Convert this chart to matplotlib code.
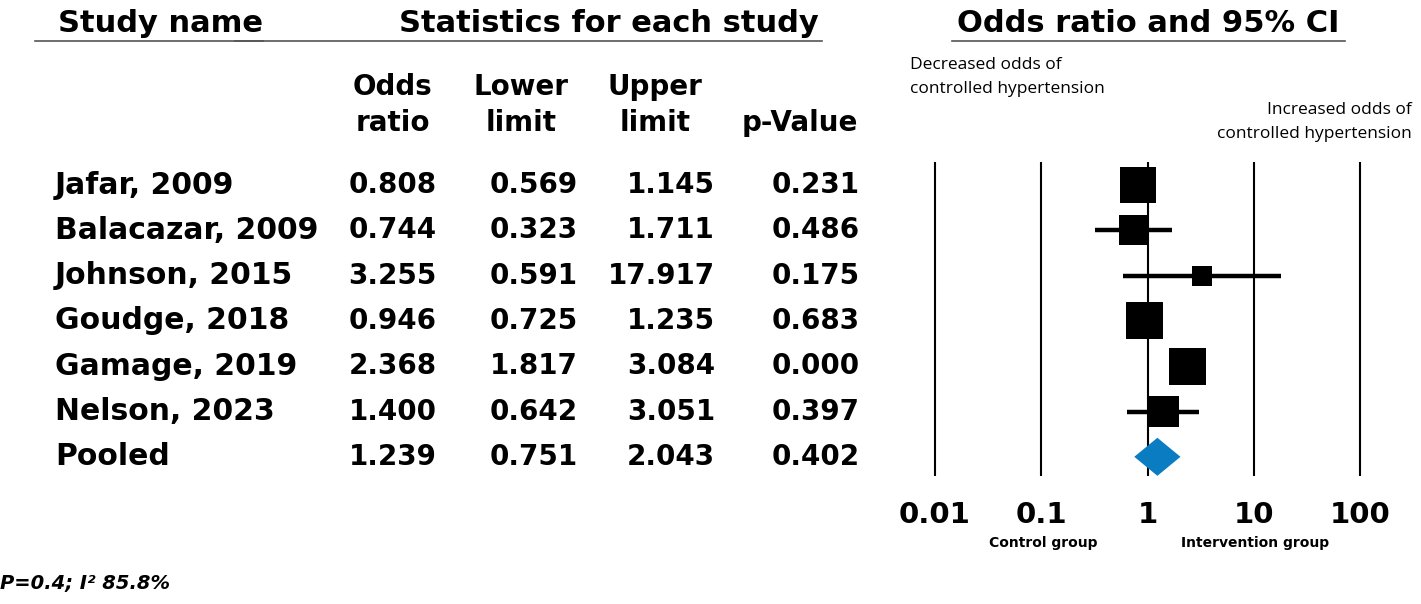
import matplotlib
matplotlib.use("Agg")
import matplotlib.pyplot as plt
import numpy as np

# data
studies = ["Jafar, 2009", "Balacazar, 2009", "Johnson, 2015", "Goudge, 2018",
           "Gamage, 2019", "Nelson, 2023", "Pooled"]
odds = [0.808, 0.744, 3.255, 0.946, 2.368, 1.400, 1.239]
lower = [0.569, 0.323, 0.591, 0.725, 1.817, 0.642, 0.751]
upper = [1.145, 1.711, 17.917, 1.235, 3.084, 3.051, 2.043]
pvals = [0.231, 0.486, 0.175, 0.683, 0.000, 0.397, 0.402]
weights = [36, 30, 20, 37, 37, 31]  # relative box sizes
xticks = [0.01, 0.1, 1, 10, 100]
xticklabels = ["0.01", "0.1", "1", "10", "100"]

W, H = 1421, 604
fig = plt.figure(figsize=(W / 100, H / 100), dpi=100)

BOLD = "DejaVu Sans"
THIN = "Open Sans"


def fx(x):
    return x / W


def fy(y):
    return 1 - y / H


def hline(x0, x1, y, lw=1.2, color="#555555"):
    fig.add_artist(plt.Line2D([fx(x0), fx(x1)], [fy(y), fy(y)], color=color, lw=lw,
                              transform=fig.transFigure))


# section headers
for label, cx, x0, x1 in [("Study name", 160, 35, 263),
                          ("Statistics for each study", 609, 235, 822),
                          ("Odds ratio and 95% CI", 1148, 952, 1345)]:
    fig.text(fx(cx), fy(23), label, ha="center", va="center", fontsize=22,
             fontweight="bold", family=BOLD)
    hline(x0, x1, 41)

# column headers
col_right = [437, 578, 715, 860]
col_heads = [("Odds", "ratio", 393), ("Lower", "limit", 521), ("Upper", "limit", 655),
             (None, "p-Value", 800)]
for top, bot, cx in col_heads:
    if top:
        fig.text(fx(cx), fy(87), top, ha="center", va="center", fontsize=20,
                 fontweight="bold", family=BOLD)
    fig.text(fx(cx), fy(123), bot, ha="center", va="center", fontsize=20,
             fontweight="bold", family=BOLD)

# table rows
row_y0, row_dy = 185, 45.3
for i, name in enumerate(studies):
    y = fy(row_y0 + i * row_dy)
    fig.text(fx(55), y, name, ha="left", va="center", fontsize=21.5, fontweight="bold",
             family=BOLD)
    for val, xr in zip([odds[i], lower[i], upper[i], pvals[i]], col_right):
        fig.text(fx(xr), y, f"{val:.3f}", ha="right", va="center", fontsize=20,
                 fontweight="bold", family=BOLD)

# forest plot axes
ax_l, ax_r, ax_t, ax_b = 900, 1400, 162, 476
ax = fig.add_axes([fx(ax_l), fy(ax_b), fx(ax_r - ax_l), (ax_b - ax_t) / H])
ax.set_xscale("log")
dec = 106.25
ax.set_xlim(10 ** (-2 - (935 - ax_l) / dec), 10 ** (2 + (ax_r - 1360) / dec))
ax.set_ylim((ax_b - row_y0) / row_dy, (ax_t - row_y0) / row_dy)
for s in ax.spines.values():
    s.set_visible(False)
ax.set_yticks([])
ax.minorticks_off()
ax.set_xticks(xticks)
ax.set_xticklabels(xticklabels, fontsize=21, fontweight="bold", family=BOLD)
ax.tick_params(axis="x", length=0, pad=18)
for t in xticks:
    ax.axvline(t, color="black", lw=1.5, zorder=1)

ys = np.arange(len(studies))
n = len(weights)
ax.hlines(ys[:n], lower[:n], upper[:n], color="black", lw=3.2, zorder=2)
sizes = [(w * 0.72) ** 2 for w in weights]
ax.scatter(odds[:n], ys[:n], s=sizes, marker="s", color="black", zorder=3,
           linewidths=0)
# pooled diamond
yp = ys[-1]
half = 0.42
ax.fill([lower[-1], odds[-1], upper[-1], odds[-1]], [yp, yp - half, yp, yp + half],
        color="#0A7DC2", zorder=3, lw=0)

# direction annotations
fig.text(fx(910), fy(65), "Decreased odds of", ha="left", va="center", fontsize=12.5,
         family=THIN)
fig.text(fx(910), fy(89), "controlled hypertension", ha="left", va="center",
         fontsize=12.5, family=THIN)
fig.text(fx(1412), fy(110), "Increased odds of", ha="right", va="center",
         fontsize=12.5, family=THIN)
fig.text(fx(1412), fy(134), "controlled hypertension", ha="right", va="center",
         fontsize=12.5, family=THIN)
fig.text(fx(1043), fy(543), "Control group", ha="center", va="center", fontsize=10,
         fontweight="bold", family=BOLD)
fig.text(fx(1255), fy(543), "Intervention group", ha="center", va="center",
         fontsize=10, fontweight="bold", family=BOLD)

fig.text(fx(0), fy(583), "P=0.4; I\u00b2 85.8%", ha="left", va="center",
         fontsize=14, fontweight="bold", fontstyle="italic", family=BOLD)

fig.savefig("out.png", dpi=100)
